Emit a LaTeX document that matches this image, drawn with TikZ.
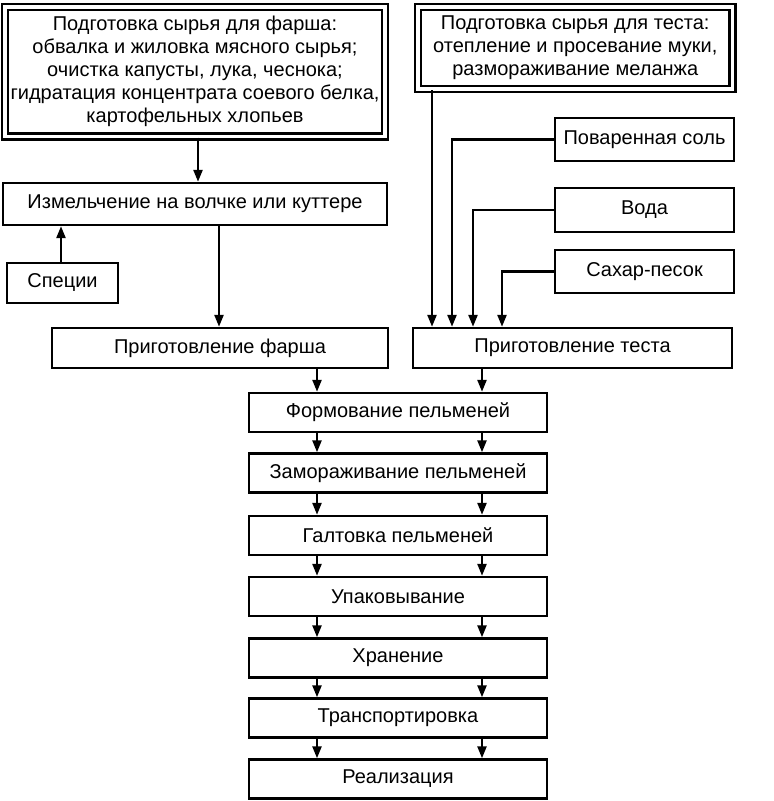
\documentclass[tikz,border=0pt]{standalone}
\usepackage{fontspec}
\setmainfont{Liberation Sans}
\usetikzlibrary{arrows.meta}

\begin{document}
\begin{tikzpicture}[x=0.5pt,y=-0.5pt,
  font=\fontsize{10}{11.5}\selectfont,
  box/.style={draw,line width=1.2pt,inner sep=2pt,minimum height=19.5pt,align=center},
  dbox/.style={draw,line width=1.2pt,double,double distance=1.8pt,inner sep=2pt,align=center},
  arr/.style={line width=1.2pt,-{Triangle[length=6pt,width=4.5pt]}}]
  \useasboundingbox[fill=white] (0,0) rectangle (773,801);

  % Raw material preparation (double frames)
  \node[dbox,minimum width=190pt,minimum height=64.75pt] (rawMince) at (195,71.75)
    {Подготовка сырья для фарша:\\ обвалка и жиловка мясного сырья;\\
     очистка капусты, лука, чеснока;\\ гидратация концентрата соевого белка,\\
     картофельных хлопьев};
  \node[dbox,minimum width=157.25pt,minimum height=41pt] (rawDough) at (575.25,48)
    {Подготовка сырья для теста:\\ отепление и просевание муки,\\
     размораживание меланжа};

  % Additions to the dough
  \node[box,minimum width=89.5pt,minimum height=21.5pt] (salt) at (644.5,139.5) {Поваренная соль};
  \node[box,minimum width=89.5pt,minimum height=22pt] (water) at (644.5,210) {Вода};
  \node[box,minimum width=89.5pt,minimum height=21.5pt] (sugar) at (644.5,271.5) {Сахар-песок};

  % Mince branch
  \node[box,minimum width=192pt,minimum height=21pt] (grind) at (195,204)
    {Измельчение на волчке или куттере};
  \node[box,minimum width=55.5pt,minimum height=20pt] (spices) at (62.5,283) {Специи};
  \node[box,minimum width=168pt,minimum height=20pt] (mince) at (220,348) {Приготовление фарша};
  \node[box,minimum width=159.5pt,minimum height=20pt] (dough) at (572.5,348) {Приготовление теста};

  % Main chain
  \foreach \name/\y/\lab in {form/412.5/Формование пельменей,
      freeze/473/Замораживание пельменей,
      roll/535.5/Галтовка пельменей,
      pack/596.5/Упаковывание,
      store/658/Хранение,
      ship/718/Транспортировка,
      sell/779/Реализация}{
    \node[box,minimum width=149pt] (\name) at (398,\y) {\lab};
  }

  % x positions of the vertical connectors
  \coordinate (xRaw) at (198,0);
  \coordinate (xSpice) at (61,0);
  \coordinate (xGrind) at (219,0);
  \coordinate (xDough) at (432,0);
  \coordinate (xSalt) at (452,0);
  \coordinate (xWater) at (473,0);
  \coordinate (xSugar) at (502,0);
  \coordinate (lx) at (317,0);
  \coordinate (rx) at (482,0);

  \draw[arr] (rawMince.south -| xRaw) -- (grind.north -| xRaw);
  \draw[arr] (spices.north -| xSpice) -- (grind.south -| xSpice);
  \draw[arr] (grind.south -| xGrind) -- (mince.north -| xGrind);
  \draw[arr] (rawDough.south -| xDough) -- (dough.north -| xDough);
  \draw[arr] (salt.west) -| (dough.north -| xSalt);
  \draw[arr] (water.west) -| (dough.north -| xWater);
  \draw[arr] (sugar.west) -| (dough.north -| xSugar);

  \draw[arr] (mince.south -| lx) -- (form.north -| lx);
  \draw[arr] (dough.south -| rx) -- (form.north -| rx);
  \foreach \a/\b in {form/freeze,freeze/roll,roll/pack,pack/store,store/ship,ship/sell}{
    \draw[arr] (\a.south -| lx) -- (\b.north -| lx);
    \draw[arr] (\a.south -| rx) -- (\b.north -| rx);
  }
\end{tikzpicture}
\end{document}
